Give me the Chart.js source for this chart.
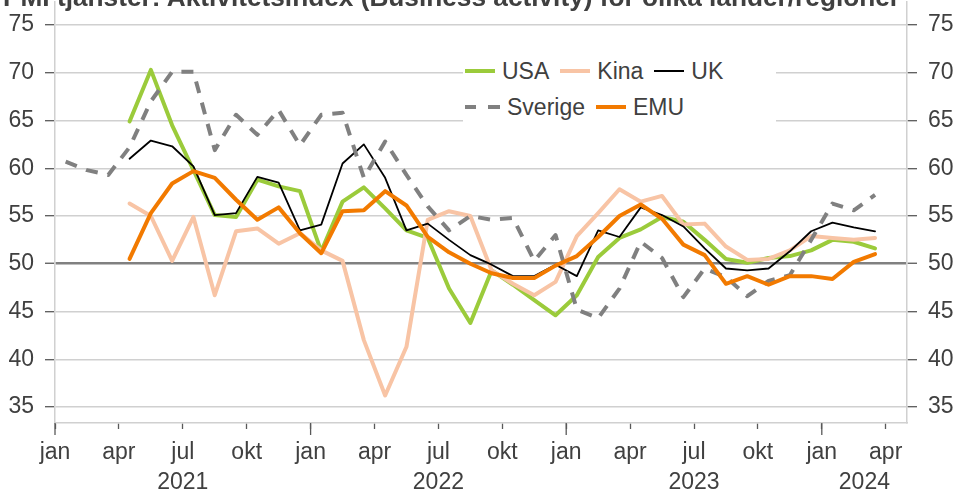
<!DOCTYPE html>
<html>
<head>
<meta charset="utf-8">
<script src="https://cdn.jsdelivr.net/npm/chart.js@4.4.1/dist/chart.umd.min.js"></script>
<style>
    html, body { margin: 0; padding: 0; background: #fff; }
    #wrap { position: relative; width: 957px; height: 491px; overflow: hidden; font-family: 'Liberation Sans', Arial, sans-serif; color: #404040; }
    #title { position: absolute; left: 3px; top: -14px; font-weight: bold; font-size: 23px; line-height: 1; white-space: nowrap; }
    #legend { position: absolute; left: 463px; top: 52px; width: 313px; height: 74px; background: #fff; font-size: 23px; }
    .row { position: absolute; left: 2px; height: 30px; display: flex; align-items: center; white-space: nowrap; }
    .item { display: flex; align-items: center; margin-right: 11px; }
    .swatch { width: 30px; height: 4px; margin-right: 7px; }
</style>
</head>
<body>
<div id="wrap">
    <canvas id="pmiChart" width="957" height="491"></canvas>
    <div id="title">PMI tjänster: Aktivitetsindex (Business activity) för olika länder/regioner</div>
    <div id="legend"></div>
</div>
<script>
const quarterLabels = ['jan', 'apr', 'jul', 'okt'];
const years = ['2021', '2022', '2023', '2024'];
const monthCount = 40; // jan 2021 - apr 2024 on the axis
const yTicks = [35, 40, 45, 50, 55, 60, 65, 70, 75];

// monthly values, jan 2021 .. mar 2024
const usa = [null, null, null, 64.9, 70.3, 64.5, 59.8, 55.1, 54.9, 58.8, 58.1, 57.6,
    51.3, 56.5, 58.0, 55.8, 53.5, 52.7, 47.4, 43.8, 49.3, 47.8, 46.2, 44.6,
    46.7, 50.7, 52.7, 53.6, 54.9, 54.4, 52.5, 50.5, 50.1, 50.6, 50.8, 51.4,
    52.5, 52.3, 51.6];
const kina = [null, null, null, 56.3, 55.0, 50.3, 54.9, 46.7, 53.4, 53.7, 52.1, 53.2,
    51.4, 50.3, 42.0, 36.2, 41.3, 54.6, 55.5, 55.0, 49.3, 47.9, 46.7, 48.1,
    52.9, 55.3, 57.8, 56.5, 57.1, 54.1, 54.2, 51.8, 50.4, 50.5, 51.4, 52.9,
    52.7, 52.5, 52.7];
const uk = [null, null, null, 61.0, 62.9, 62.3, 60.2, 55.1, 55.3, 59.1, 58.5, 53.5,
    54.1, 60.5, 62.5, 59.0, 53.5, 54.2, 52.5, 50.9, 49.9, 48.7, 48.7, 49.9,
    48.7, 53.5, 52.8, 55.9, 55.1, 53.9, 51.6, 49.5, 49.3, 49.5, 51.3, 53.4,
    54.3, 53.8, 53.4];
const sverige = [60.7, 59.8, 59.3, 62.2, 67.0, 70.1, 70.1, 61.9, 65.6, 63.5, 66.1, 62.4,
    65.6, 65.8, 59.0, 62.8, 59.3, 56.0, 53.5, 55.0, 54.6, 54.8, 50.3, 53.0,
    45.2, 44.3, 47.4, 52.3, 50.6, 46.5, 49.5, 48.6, 46.6, 48.2, 48.8, 52.5,
    56.3, 55.6, 57.2];
const emu = [null, null, null, 50.5, 55.3, 58.4, 59.7, 59.0, 56.7, 54.6, 55.9, 53.2,
    51.1, 55.5, 55.6, 57.6, 56.1, 52.8, 51.2, 50.0, 49.0, 48.5, 48.5, 49.8,
    50.8, 52.8, 55.0, 56.2, 54.7, 52.0, 50.9, 47.9, 48.7, 47.8, 48.7, 48.7,
    48.4, 50.2, 51.0];

const textColor = '#404040';
const fontFamily = "'Liberation Sans', Arial, sans-serif";

function toPoints(values) {
    // place each month in the middle of its slot on the date axis
    return values.map((v, i) => ({ x: i + 0.5, y: v }));
}

const series = [
    { label: 'USA', data: usa, color: '#9BCB3B', width: 4, dash: [] },
    { label: 'Kina', data: kina, color: '#F8C4A5', width: 4, dash: [] },
    { label: 'UK', data: uk, color: '#000000', width: 1.8, dash: [] },
    { label: 'Sverige', data: sverige, color: '#808080', width: 4, dash: [12, 10] },
    { label: 'EMU', data: emu, color: '#F27A00', width: 4, dash: [] }
];

const yearAxis = {
    id: 'yearAxis',
    afterDraw(chart) {
        const { ctx, chartArea, scales } = chart;
        const x = scales.x;
        ctx.save();
        ctx.strokeStyle = '#595959';
        ctx.lineWidth = 1.3;
        ctx.fillStyle = textColor;
        ctx.font = '23px ' + fontFamily;
        ctx.textAlign = 'center';
        ctx.textBaseline = 'alphabetic';
        years.forEach((yr, k) => {
            const start = k * 12;
            const end = Math.min(start + 12, monthCount);
            const px = x.getPixelForValue(start);
            ctx.beginPath();
            ctx.moveTo(px, chartArea.bottom);
            ctx.lineTo(px, chartArea.bottom + 12);
            ctx.stroke();
            ctx.fillText(yr, x.getPixelForValue((start + end) / 2), 489);
        });
        ctx.restore();
    }
};

function noPadding(scale) {
    scale.paddingTop = 0;
    scale.paddingBottom = 0;
    scale.paddingLeft = 0;
    scale.paddingRight = 0;
}

function yAxis(position, width, onArea) {
    return {
        type: 'linear',
        position: position,
        min: 33.32,
        max: 77.41,
        afterBuildTicks: (scale) => { scale.ticks = yTicks.map(v => ({ value: v })); },
        afterFit: (scale) => { scale.width = width; noPadding(scale); },
        ticks: {
            color: textColor,
            font: { family: fontFamily, size: 23 },
            padding: 11
        },
        grid: {
            drawOnChartArea: onArea,
            color: (c) => (c.tick && c.tick.value === 50) ? '#808080' : '#d0d0d0',
            lineWidth: (c) => (c.tick && c.tick.value === 50) ? 2.5 : 1.4,
            tickColor: '#595959',
            tickWidth: 1.3,
            tickLength: 10
        },
        border: { display: true, color: '#d0d0d0', width: 1.5 }
    };
}

new Chart(document.getElementById('pmiChart'), {
    type: 'line',
    data: {
        datasets: series.map((s, i) => ({
            label: s.label,
            data: toPoints(s.data),
            borderColor: s.color,
            backgroundColor: s.color,
            borderWidth: s.width,
            borderDash: s.dash,
            borderCapStyle: s.dash.length ? 'butt' : 'round',
            borderJoinStyle: 'round',
            pointRadius: 0,
            tension: 0,
            fill: false,
            order: series.length - i
        }))
    },
    options: {
        responsive: false,
        animation: false,
        devicePixelRatio: 1,
        layout: { padding: { top: 2, left: 0, right: 0, bottom: 0 } },
        plugins: {
            legend: { display: false },
            tooltip: { enabled: false },
            title: { display: false }
        },
        scales: {
            x: {
                type: 'linear',
                position: 'bottom',
                min: 0,
                max: monthCount,
                afterBuildTicks: (scale) => {
                    const t = [];
                    for (let v = 0; v < monthCount; v += 3) t.push({ value: v });
                    scale.ticks = t;
                },
                afterFit: (scale) => { scale.height = 68; noPadding(scale); },
                ticks: {
                    autoSkip: false,
                    maxRotation: 0,
                    color: textColor,
                    font: { family: fontFamily, size: 23 },
                    padding: 10,
                    callback: (v) => quarterLabels[(v / 3) % 4]
                },
                grid: {
                    drawOnChartArea: false,
                    tickColor: '#595959',
                    tickWidth: 1.3,
                    tickLength: 6
                },
                border: { display: true, color: '#d0d0d0', width: 1.5 }
            },
            y: yAxis('left', 55, true),
            y2: yAxis('right', 50, false)
        }
    },
    plugins: [yearAxis]
});

// legend in two rows, like the original
const legend = document.getElementById('legend');
[[0, 1, 2], [3, 4]].forEach((idxs, r) => {
    const row = document.createElement('div');
    row.className = 'row';
    row.style.top = (r === 0 ? 4 : 40) + 'px';
    idxs.forEach(i => {
        const s = series[i];
        const item = document.createElement('div');
        item.className = 'item';
        const sw = document.createElement('span');
        sw.className = 'swatch';
        if (s.dash.length) {
            sw.style.width = '35px';
            sw.style.background = `linear-gradient(to right, ${s.color} 0 11px, transparent 11px 23px, ${s.color} 23px 35px)`;
        } else {
            sw.style.background = s.color;
            sw.style.height = s.width >= 3 ? '4px' : '2px';
        }
        const txt = document.createElement('span');
        txt.textContent = s.label;
        item.appendChild(sw);
        item.appendChild(txt);
        row.appendChild(item);
    });
    legend.appendChild(row);
});

// fit the (mostly cropped) title to the width it has in the original
const title = document.getElementById('title');
const fs = 23 * 897 / title.offsetWidth;
title.style.fontSize = fs + 'px';
title.style.top = (6 - 0.85 * fs) + 'px';
</script>
</body>
</html>
